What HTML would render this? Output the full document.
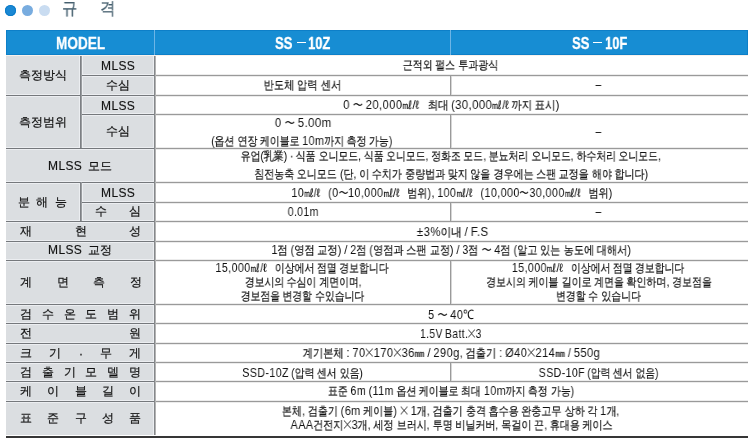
<!DOCTYPE html>
<html><head><meta charset="utf-8">
<style>
html,body{margin:0;padding:0;background:#fff;}
body{width:750px;height:440px;position:relative;overflow:hidden;font-family:"Liberation Sans",sans-serif;color:#222;}
.bl{position:absolute;height:14px;line-height:14px;font-size:12px;text-align:center;white-space:nowrap;font-family:"Liberation Sans",sans-serif;}
.a{position:absolute;}
.dot{position:absolute;top:5px;width:11px;height:11px;border-radius:50%;}
.l{position:absolute;}
.g{position:absolute;background:#dbdee1;}
.cell{position:absolute;display:flex;align-items:center;justify-content:center;text-align:center;}
.t{display:inline-block;white-space:nowrap;font-size:12px;line-height:14px;transform:scaleX(0.83);transform-origin:50% 50%;color:#111;will-change:transform;-webkit-text-stroke:0.2px #111;}
.hx{position:absolute;will-change:transform;white-space:nowrap;font-size:17px;font-weight:bold;color:#fff;line-height:17px;transform-origin:0 0;-webkit-text-stroke:0.3px #fff;}
.hd{display:inline-block;white-space:nowrap;font-size:16px;font-weight:bold;color:#fff;line-height:16px;transform:scaleX(.82);transform-origin:50% 50%;}
.x{font-weight:normal;font-size:16px;line-height:10px;-webkit-text-stroke:0;}
.xs{display:inline-block;vertical-align:0px;}
.wv{font-style:normal;-webkit-text-stroke:0;}
.la{font-size:13px;font-style:normal;-webkit-text-stroke:0;letter-spacing:.5px;margin-right:-.5px;}
.lb{font-size:12px;line-height:14px;color:#222;}
.lt{display:inline-block;white-space:nowrap;font-size:12px;line-height:14px;color:#111;will-change:transform;-webkit-text-stroke:0.2px #111;}
.ml{-webkit-text-stroke:.15px #111;letter-spacing:.4px;font-style:normal;color:#111}
.j{position:absolute;display:flex;justify-content:space-between;align-items:center;font-size:12px;color:#111;}
.j span{will-change:transform;-webkit-text-stroke:0.2px #111;}
</style></head><body>
<!-- dots & title -->
<div class="dot" style="left:5px;background:#1a88d4;box-shadow:inset 0 0 0 1px #0c7bc8"></div>
<div class="dot" style="left:22px;background:#78acdf"></div>
<div class="dot" style="left:39px;background:#c9dcf1"></div>
<div class="a" id="ti1" style="left:62px;top:-1px;font-size:17px;transform:scaleX(.9);transform-origin:0 0;line-height:20px;color:#46606f;will-change:transform;-webkit-text-stroke:.25px #46606f">규</div>
<div class="a" id="ti2" style="left:100px;top:-1px;font-size:17px;transform:scaleX(.9);transform-origin:0 0;line-height:20px;color:#46606f;will-change:transform;-webkit-text-stroke:.25px #46606f">격</div>

<!-- header -->
<div class="a" style="left:6px;top:30px;width:742px;height:25px;background:#178dd3;box-shadow:inset 0 0 0 1px #0d7fc8"></div>
<div class="a" style="left:6px;top:55px;width:742px;height:1px;background:#f7f1ec"></div>
<div class="a" style="left:154px;top:30px;width:1px;height:25px;background:#6db5e6"></div>
<div class="a" style="left:450px;top:30px;width:1px;height:25px;background:#6db5e6"></div>
<div class="hx" id="h1" style="left:56px;top:35px;transform:scaleX(.80)">MODEL</div>
<div class="hx" id="h2" style="left:275px;top:35px;transform:scaleX(.77)">SS</div>
<div class="a" id="h3" style="left:296.5px;top:42px;width:9px;height:1.4px;background:#fff"></div>
<div class="hx" id="h4" style="left:308px;top:35px;transform:scaleX(.76)">10Z</div>
<div class="hx" id="h5" style="left:571.5px;top:35px;transform:scaleX(.77)">SS</div>
<div class="a" id="h6" style="left:593px;top:42px;width:9px;height:1.4px;background:#fff"></div>
<div class="hx" id="h7" style="left:605px;top:35px;transform:scaleX(.76)">10F</div>

<!-- label column background -->
<div class="g" style="left:6px;top:56px;width:148px;height:379px"></div>

<div class="l" style="left:81px;top:74px;width:72px;height:1px;background:#eceef1"></div>
<div class="l" style="left:81px;top:76px;width:72px;height:1px;background:#eceef1"></div>
<div class="l" style="left:6px;top:94px;width:147px;height:1px;background:#eceef1"></div>
<div class="l" style="left:6px;top:96px;width:147px;height:1px;background:#eceef1"></div>
<div class="l" style="left:81px;top:113px;width:72px;height:1px;background:#eceef1"></div>
<div class="l" style="left:81px;top:115px;width:72px;height:1px;background:#eceef1"></div>
<div class="l" style="left:6px;top:147px;width:147px;height:1px;background:#eceef1"></div>
<div class="l" style="left:6px;top:149px;width:147px;height:1px;background:#eceef1"></div>
<div class="l" style="left:6px;top:181px;width:147px;height:1px;background:#eceef1"></div>
<div class="l" style="left:6px;top:183px;width:147px;height:1px;background:#eceef1"></div>
<div class="l" style="left:81px;top:201px;width:72px;height:1px;background:#eceef1"></div>
<div class="l" style="left:81px;top:203px;width:72px;height:1px;background:#eceef1"></div>
<div class="l" style="left:6px;top:220px;width:147px;height:1px;background:#eceef1"></div>
<div class="l" style="left:6px;top:222px;width:147px;height:1px;background:#eceef1"></div>
<div class="l" style="left:6px;top:240px;width:147px;height:1px;background:#eceef1"></div>
<div class="l" style="left:6px;top:242px;width:147px;height:1px;background:#eceef1"></div>
<div class="l" style="left:6px;top:259px;width:147px;height:1px;background:#eceef1"></div>
<div class="l" style="left:6px;top:261px;width:147px;height:1px;background:#eceef1"></div>
<div class="l" style="left:6px;top:303px;width:147px;height:1px;background:#eceef1"></div>
<div class="l" style="left:6px;top:305px;width:147px;height:1px;background:#eceef1"></div>
<div class="l" style="left:6px;top:322px;width:147px;height:1px;background:#eceef1"></div>
<div class="l" style="left:6px;top:324px;width:147px;height:1px;background:#eceef1"></div>
<div class="l" style="left:6px;top:342px;width:147px;height:1px;background:#eceef1"></div>
<div class="l" style="left:6px;top:344px;width:147px;height:1px;background:#eceef1"></div>
<div class="l" style="left:6px;top:361px;width:147px;height:1px;background:#eceef1"></div>
<div class="l" style="left:6px;top:363px;width:147px;height:1px;background:#eceef1"></div>
<div class="l" style="left:6px;top:380px;width:147px;height:1px;background:#eceef1"></div>
<div class="l" style="left:6px;top:382px;width:147px;height:1px;background:#eceef1"></div>
<div class="l" style="left:6px;top:400px;width:147px;height:1px;background:#eceef1"></div>
<div class="l" style="left:6px;top:402px;width:147px;height:1px;background:#eceef1"></div>
<div class="l" style="left:79px;top:56px;width:1px;height:92px;background:#eceef1"></div>
<div class="l" style="left:82px;top:56px;width:1px;height:92px;background:#eceef1"></div>
<div class="l" style="left:79px;top:182px;width:1px;height:39px;background:#eceef1"></div>
<div class="l" style="left:82px;top:182px;width:1px;height:39px;background:#eceef1"></div>
<div class="l" style="left:153px;top:56px;width:1px;height:379px;background:#eceef1"></div>
<div class="l" style="left:156px;top:74px;width:592px;height:1px;background:#ececec"></div>
<div class="l" style="left:156px;top:76px;width:592px;height:1px;background:#ececec"></div>
<div class="l" style="left:156px;top:94px;width:592px;height:1px;background:#ececec"></div>
<div class="l" style="left:156px;top:96px;width:592px;height:1px;background:#ececec"></div>
<div class="l" style="left:156px;top:113px;width:592px;height:1px;background:#ececec"></div>
<div class="l" style="left:156px;top:115px;width:592px;height:1px;background:#ececec"></div>
<div class="l" style="left:156px;top:147px;width:592px;height:1px;background:#ececec"></div>
<div class="l" style="left:156px;top:149px;width:592px;height:1px;background:#ececec"></div>
<div class="l" style="left:156px;top:181px;width:592px;height:1px;background:#ececec"></div>
<div class="l" style="left:156px;top:183px;width:592px;height:1px;background:#ececec"></div>
<div class="l" style="left:156px;top:201px;width:592px;height:1px;background:#ececec"></div>
<div class="l" style="left:156px;top:203px;width:592px;height:1px;background:#ececec"></div>
<div class="l" style="left:156px;top:220px;width:592px;height:1px;background:#ececec"></div>
<div class="l" style="left:156px;top:222px;width:592px;height:1px;background:#ececec"></div>
<div class="l" style="left:156px;top:240px;width:592px;height:1px;background:#ececec"></div>
<div class="l" style="left:156px;top:242px;width:592px;height:1px;background:#ececec"></div>
<div class="l" style="left:156px;top:259px;width:592px;height:1px;background:#ececec"></div>
<div class="l" style="left:156px;top:261px;width:592px;height:1px;background:#ececec"></div>
<div class="l" style="left:156px;top:303px;width:592px;height:1px;background:#ececec"></div>
<div class="l" style="left:156px;top:305px;width:592px;height:1px;background:#ececec"></div>
<div class="l" style="left:156px;top:322px;width:592px;height:1px;background:#ececec"></div>
<div class="l" style="left:156px;top:324px;width:592px;height:1px;background:#ececec"></div>
<div class="l" style="left:156px;top:342px;width:592px;height:1px;background:#ececec"></div>
<div class="l" style="left:156px;top:344px;width:592px;height:1px;background:#ececec"></div>
<div class="l" style="left:156px;top:361px;width:592px;height:1px;background:#ececec"></div>
<div class="l" style="left:156px;top:363px;width:592px;height:1px;background:#ececec"></div>
<div class="l" style="left:156px;top:380px;width:592px;height:1px;background:#ececec"></div>
<div class="l" style="left:156px;top:382px;width:592px;height:1px;background:#ececec"></div>
<div class="l" style="left:156px;top:400px;width:592px;height:1px;background:#ececec"></div>
<div class="l" style="left:156px;top:402px;width:592px;height:1px;background:#ececec"></div>
<div class="l" style="left:81px;top:75px;width:73px;height:1px;background:#75787c"></div>
<div class="l" style="left:154px;top:75px;width:594px;height:1px;background:#9a9a9a"></div>
<div class="l" style="left:6px;top:95px;width:148px;height:1px;background:#75787c"></div>
<div class="l" style="left:154px;top:95px;width:594px;height:1px;background:#9a9a9a"></div>
<div class="l" style="left:81px;top:114px;width:73px;height:1px;background:#75787c"></div>
<div class="l" style="left:154px;top:114px;width:594px;height:1px;background:#9a9a9a"></div>
<div class="l" style="left:6px;top:148px;width:148px;height:1px;background:#75787c"></div>
<div class="l" style="left:154px;top:148px;width:594px;height:1px;background:#9a9a9a"></div>
<div class="l" style="left:6px;top:182px;width:148px;height:1px;background:#75787c"></div>
<div class="l" style="left:154px;top:182px;width:594px;height:1px;background:#9a9a9a"></div>
<div class="l" style="left:81px;top:202px;width:73px;height:1px;background:#75787c"></div>
<div class="l" style="left:154px;top:202px;width:594px;height:1px;background:#9a9a9a"></div>
<div class="l" style="left:6px;top:221px;width:148px;height:1px;background:#75787c"></div>
<div class="l" style="left:154px;top:221px;width:594px;height:1px;background:#9a9a9a"></div>
<div class="l" style="left:6px;top:241px;width:148px;height:1px;background:#75787c"></div>
<div class="l" style="left:154px;top:241px;width:594px;height:1px;background:#9a9a9a"></div>
<div class="l" style="left:6px;top:260px;width:148px;height:1px;background:#75787c"></div>
<div class="l" style="left:154px;top:260px;width:594px;height:1px;background:#9a9a9a"></div>
<div class="l" style="left:6px;top:304px;width:148px;height:1px;background:#75787c"></div>
<div class="l" style="left:154px;top:304px;width:594px;height:1px;background:#9a9a9a"></div>
<div class="l" style="left:6px;top:323px;width:148px;height:1px;background:#75787c"></div>
<div class="l" style="left:154px;top:323px;width:594px;height:1px;background:#9a9a9a"></div>
<div class="l" style="left:6px;top:343px;width:148px;height:1px;background:#75787c"></div>
<div class="l" style="left:154px;top:343px;width:594px;height:1px;background:#9a9a9a"></div>
<div class="l" style="left:6px;top:362px;width:148px;height:1px;background:#75787c"></div>
<div class="l" style="left:154px;top:362px;width:594px;height:1px;background:#9a9a9a"></div>
<div class="l" style="left:6px;top:381px;width:148px;height:1px;background:#75787c"></div>
<div class="l" style="left:154px;top:381px;width:594px;height:1px;background:#9a9a9a"></div>
<div class="l" style="left:6px;top:401px;width:148px;height:1px;background:#75787c"></div>
<div class="l" style="left:154px;top:401px;width:594px;height:1px;background:#9a9a9a"></div>
<div class="l" style="left:80px;top:56px;width:1px;height:92px;background:#7d8084"></div>
<div class="l" style="left:81px;top:56px;width:1px;height:92px;background:#9a9da0"></div>
<div class="l" style="left:80px;top:182px;width:1px;height:39px;background:#7d8084"></div>
<div class="l" style="left:81px;top:182px;width:1px;height:39px;background:#9a9da0"></div>
<div class="l" style="left:154px;top:56px;width:1px;height:379px;background:#85888b"></div>
<div class="l" style="left:155px;top:56px;width:1px;height:379px;background:#b3b3b3"></div>
<div class="l" style="left:450px;top:75px;width:1px;height:20px;background:#9a9a9a"></div>
<div class="l" style="left:451px;top:76px;width:1px;height:19px;background:#d6d6d6"></div>
<div class="l" style="left:450px;top:114px;width:1px;height:34px;background:#9a9a9a"></div>
<div class="l" style="left:451px;top:115px;width:1px;height:33px;background:#d6d6d6"></div>
<div class="l" style="left:450px;top:202px;width:1px;height:19px;background:#9a9a9a"></div>
<div class="l" style="left:451px;top:203px;width:1px;height:18px;background:#d6d6d6"></div>
<div class="l" style="left:450px;top:260px;width:1px;height:44px;background:#9a9a9a"></div>
<div class="l" style="left:451px;top:261px;width:1px;height:43px;background:#d6d6d6"></div>
<div class="l" style="left:450px;top:362px;width:1px;height:19px;background:#9a9a9a"></div>
<div class="l" style="left:451px;top:363px;width:1px;height:18px;background:#d6d6d6"></div>
<div class="l" style="left:6px;top:436px;width:742px;height:2px;background:#363636"></div>
<!-- labels -->
<div id="L1" class="cell lb"  style="left:6px;top:55px;width:74px;height:40px"><span class="lt">측정방식</span></div>
<div id="L2" class="cell lb"  style="left:82px;top:56px;width:73px;height:20px"><span class="lt ml">MLSS</span></div>
<div id="L3" class="cell lb"  style="left:81px;top:75px;width:73px;height:20px"><span class="lt">수심</span></div>
<div id="L4" class="cell lb"  style="left:6px;top:95px;width:74px;height:54px"><span class="lt">측정범위</span></div>
<div id="L5" class="cell lb"  style="left:82px;top:96px;width:73px;height:20px"><span class="lt ml">MLSS</span></div>
<div id="L6" class="cell lb"  style="left:81px;top:114px;width:73px;height:34px"><span class="lt">수심</span></div>
<div id="L7" class="cell lb"  style="left:6px;top:149px;width:148px;height:34px"><span class="lt" style="word-spacing:2.5px"><i class="ml">MLSS</i> 모드</span></div>
<div id="L8" class="j" style="left:18.2px;top:183px;width:48.4px;height:38px"><span>분</span><span>해</span><span>능</span></div>
<div id="L9" class="cell lb"  style="left:82px;top:183px;width:73px;height:19px"><span class="lt ml">MLSS</span></div>
<div id="L10" class="j" style="left:94.5px;top:202px;width:46px;height:19px"><span>수</span><span>심</span></div>
<div id="L11" class="j" style="left:20px;top:221px;width:121px;height:20px"><span>재</span><span>현</span><span>성</span></div>
<div id="L12" class="cell lb"  style="left:6px;top:240px;width:148px;height:19px"><span class="lt" style="word-spacing:2.5px"><i class="ml">MLSS</i> 교정</span></div>
<div id="L13" class="j" style="left:20px;top:260px;width:122px;height:44px"><span>계</span><span>면</span><span>측</span><span>정</span></div>
<div id="L14" class="j" style="left:20px;top:304px;width:121px;height:20px"><span>검</span><span>수</span><span>온</span><span>도</span><span>범</span><span>위</span></div>
<div id="L15" class="j" style="left:20px;top:324px;width:121px;height:19px"><span>전</span><span>원</span></div>
<div id="L16" class="j" style="left:20px;top:344px;width:121px;height:19px"><span>크</span><span>기</span><span>·</span><span>무</span><span>게</span></div>
<div id="L17" class="j" style="left:20px;top:362px;width:121px;height:20px"><span>검</span><span>출</span><span>기</span><span>모</span><span>델</span><span>명</span></div>
<div id="L18" class="j" style="left:20px;top:382px;width:121px;height:19px"><span>케</span><span>이</span><span>블</span><span>길</span><span>이</span></div>
<div id="L19" class="j" style="left:20px;top:401px;width:121px;height:35px"><span>표</span><span>준</span><span>구</span><span>성</span><span>품</span></div>

<!-- body cells -->
<div class="bl" id="b0" style="left:154.00px;top:58px;width:593px"><span class="t" style="transform:scaleX(0.8302)">근적외 펄스 투과광식</span></div>
<div class="bl" id="b1" style="left:155.00px;top:78px;width:295px"><span class="t" style="transform:scaleX(0.8529)">반도체 압력 센서</span></div>
<div class="bl" id="b2" style="left:450.00px;top:78px;width:297px"><span class="t" style="transform:scaleX(0.8300)">–</span></div>
<div class="bl" id="b3" style="left:155.00px;top:98px;width:593px"><span class="t" style="transform:scaleX(0.8623)"><i class="la">0</i> <i class="wv">〜</i> <i class="la">20,000</i>㎖<i class="la">/</i>ℓ   최대 <i class="la">(30,000</i>㎖<i class="la">/</i>ℓ 까지 표시<i class="la">)</i></span></div>
<div class="bl" id="b4" style="left:155.40px;top:116px;width:295px"><span class="t" style="transform:scaleX(0.8785)"><i class="la">0</i> <i class="wv">〜</i> <i class="la">5.00m</i></span></div>
<div class="bl" id="b5" style="left:154.55px;top:134px;width:295px"><span class="t" style="transform:scaleX(0.8260)"><i class="la">(</i>옵션 연장 케이블로 <i class="la">10m</i>까지 측정 가능<i class="la">)</i></span></div>
<div class="bl" id="b6" style="left:450.00px;top:125px;width:297px"><span class="t" style="transform:scaleX(0.8300)">–</span></div>
<div class="bl" id="b7" style="left:154.70px;top:149px;width:593px"><span class="t" style="transform:scaleX(0.8213)">유업<i class="la">(</i>乳業<i class="la">)</i> · 식품 오니모드<i class="la">,</i> 식품 오니모드<i class="la">,</i> 정화조 모드<i class="la">,</i> 분뇨처리 오니모드<i class="la">,</i> 하수처리 오니모드<i class="la">,</i></span></div>
<div class="bl" id="b8" style="left:154.90px;top:167px;width:593px"><span class="t" style="transform:scaleX(0.8340)">침전농축 오니모드 <i class="la">(</i>단<i class="la">,</i> 이 수치가 중량법과 맞지 않을 경우에는 스팬 교정을 해야 합니다<i class="la">)</i></span></div>
<div class="bl" id="b9" style="left:155.30px;top:186px;width:593px"><span class="t" style="transform:scaleX(0.8279)"><i class="la">10</i>㎖<i class="la">/</i>ℓ   <i class="la">(0</i><i class="wv">〜</i><i class="la">10,000</i>㎖<i class="la">/</i>ℓ   범위<i class="la">),</i> <i class="la">100</i>㎖<i class="la">/</i>ℓ   <i class="la">(10,000</i><i class="wv">〜</i><i class="la">30,000</i>㎖<i class="la">/</i>ℓ   범위<i class="la">)</i></span></div>
<div class="bl" id="b10" style="left:155.50px;top:205px;width:295px"><span class="t" style="transform:scaleX(0.8044)"><i class="la">0.01m</i></span></div>
<div class="bl" id="b11" style="left:450.00px;top:205px;width:297px"><span class="t" style="transform:scaleX(0.8300)">–</span></div>
<div class="bl" id="b12" style="left:155.75px;top:225px;width:593px"><span class="t" style="transform:scaleX(0.8813)"><i class="la">±3%</i>이내 <i class="la">/</i> <i class="la">F.S</i></span></div>
<div class="bl" id="b13" style="left:154.65px;top:243px;width:593px"><span class="t" style="transform:scaleX(0.8473)"><i class="la">1</i>점 <i class="la">(</i>영점 교정<i class="la">)</i> <i class="la">/</i> <i class="la">2</i>점 <i class="la">(</i>영점과 스팬 교정<i class="la">)</i> <i class="la">/</i> <i class="la">3</i>점 <i class="wv">〜</i> <i class="la">4</i>점 <i class="la">(</i>알고 있는 농도에 대해서<i class="la">)</i></span></div>
<div class="bl" id="b14" style="left:154.55px;top:261px;width:295px"><span class="t" style="transform:scaleX(0.8251)"><i class="la">15,000</i>㎖<i class="la">/</i>ℓ   이상에서 점멸 경보합니다</span></div>
<div class="bl" id="b15" style="left:155.25px;top:275px;width:295px"><span class="t" style="transform:scaleX(0.8194)">경보시의 수심이 계면이며<i class="la">,</i></span></div>
<div class="bl" id="b16" style="left:155.05px;top:289px;width:295px"><span class="t" style="transform:scaleX(0.8175)">경보점을 변경할 수있습니다</span></div>
<div class="bl" id="b17" style="left:450.00px;top:261px;width:297px"><span class="t" style="transform:scaleX(0.8208)"><i class="la">15,000</i>㎖<i class="la">/</i>ℓ   이상에서 점멸 경보합니다</span></div>
<div class="bl" id="b18" style="left:451.00px;top:275px;width:297px"><span class="t" style="transform:scaleX(0.8303)">경보시의 케이블 길이로 계면을 확인하며<i class="la">,</i> 경보점을</span></div>
<div class="bl" id="b19" style="left:449.95px;top:289px;width:297px"><span class="t" style="transform:scaleX(0.8253)">변경할 수 있습니다</span></div>
<div class="bl" id="b20" style="left:154.50px;top:308px;width:593px"><span class="t" style="transform:scaleX(0.8520)"><i class="la">5</i> <i class="wv">〜</i> <i class="la">40℃</i></span></div>
<div class="bl" id="b21" style="left:154.50px;top:327px;width:593px"><span class="t" style="transform:scaleX(0.7920)"><i class="la">1.5V</i> <i class="la">Batt.</i><svg class="xs" width="10" height="9" viewBox="0 0 10 9"><path d="M0.9 0.5L9.1 8.5M9.1 0.5L0.9 8.5" stroke="#1a1a1a" stroke-width="1.0" fill="none"/></svg><i class="la">3</i></span></div>
<div class="bl" id="b22" style="left:155.00px;top:346px;width:593px"><span class="t" style="transform:scaleX(0.8524)">계기본체 <i class="la">:</i> <i class="la">70</i><svg class="xs" width="10" height="9" viewBox="0 0 10 9"><path d="M0.9 0.5L9.1 8.5M9.1 0.5L0.9 8.5" stroke="#1a1a1a" stroke-width="1.0" fill="none"/></svg><i class="la">170</i><svg class="xs" width="10" height="9" viewBox="0 0 10 9"><path d="M0.9 0.5L9.1 8.5M9.1 0.5L0.9 8.5" stroke="#1a1a1a" stroke-width="1.0" fill="none"/></svg><i class="la">36</i>㎜ <i class="la">/</i> <i class="la">290g,</i> 검출기 <i class="la">:</i> <i class="la">Ø40</i><svg class="xs" width="10" height="9" viewBox="0 0 10 9"><path d="M0.9 0.5L9.1 8.5M9.1 0.5L0.9 8.5" stroke="#1a1a1a" stroke-width="1.0" fill="none"/></svg><i class="la">214</i>㎜ <i class="la">/</i> <i class="la">550g</i></span></div>
<div class="bl" id="b23" style="left:155.25px;top:366px;width:295px"><span class="t" style="transform:scaleX(0.8198)"><i class="la">SSD-10Z</i> <i class="la">(</i>압력 센서 있음<i class="la">)</i></span></div>
<div class="bl" id="b24" style="left:450.00px;top:366px;width:297px"><span class="t" style="transform:scaleX(0.8139)"><i class="la">SSD-10F</i> <i class="la">(</i>압력 센서 없음<i class="la">)</i></span></div>
<div class="bl" id="b25" style="left:154.40px;top:384px;width:593px"><span class="t" style="transform:scaleX(0.8261)">표준 <i class="la">6m</i> <i class="la">(11m</i> 옵션 케이블로 최대 <i class="la">10m</i>까지 측정 가능<i class="la">)</i></span></div>
<div class="bl" id="b26" style="left:154.05px;top:404px;width:593px"><span class="t" style="transform:scaleX(0.8369)">본체<i class="la">,</i> 검출기 <i class="la">(6m</i> 케이블<i class="la">)</i> <svg class="xs" width="10" height="9" viewBox="0 0 10 9"><path d="M0.9 0.5L9.1 8.5M9.1 0.5L0.9 8.5" stroke="#1a1a1a" stroke-width="1.0" fill="none"/></svg> <i class="la">1</i>개<i class="la">,</i> 검출기 충격 흡수용 완충고무 상하 각 <i class="la">1</i>개<i class="la">,</i></span></div>
<div class="bl" id="b27" style="left:155.45px;top:418px;width:593px"><span class="t" style="transform:scaleX(0.8362)"><i class="la">AAA</i>건전지<svg class="xs" width="10" height="9" viewBox="0 0 10 9"><path d="M0.9 0.5L9.1 8.5M9.1 0.5L0.9 8.5" stroke="#1a1a1a" stroke-width="1.0" fill="none"/></svg><i class="la">3</i>개<i class="la">,</i> 세정 브러시<i class="la">,</i> 투명 비닐커버<i class="la">,</i> 목걸이 끈<i class="la">,</i> 휴대용 케이스</span></div>
</body></html>
